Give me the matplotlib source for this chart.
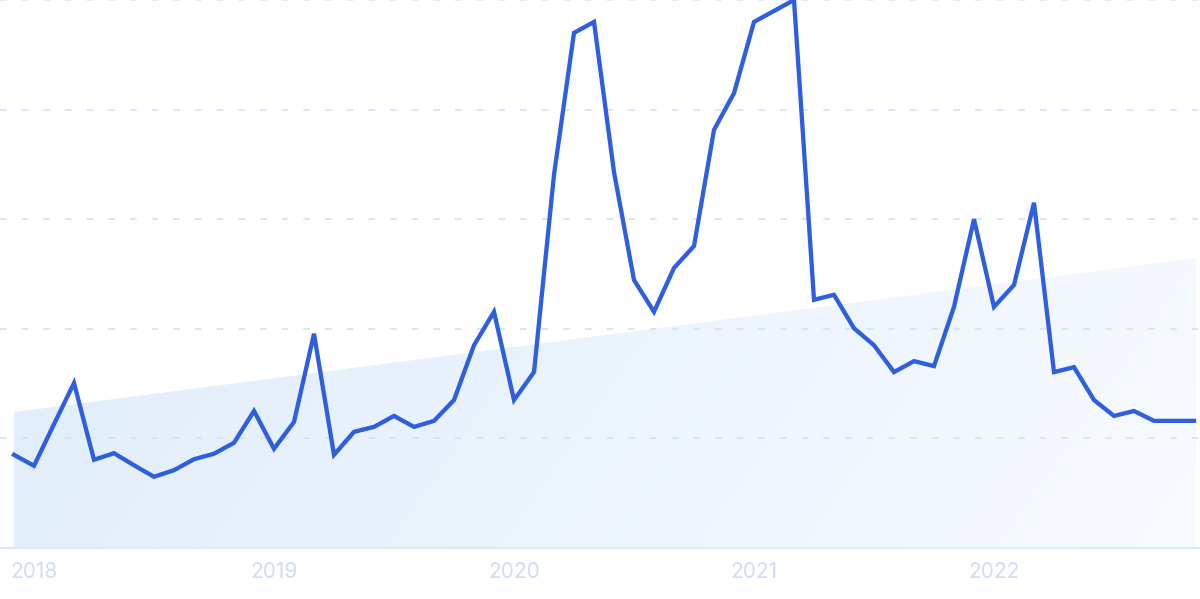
import numpy as np
import pandas as pd
import matplotlib
matplotlib.use("Agg")
import matplotlib.pyplot as plt
from matplotlib.patches import Polygon

# monthly interest, Dec 2017 .. Nov 2022 (0-100 scale)
months = pd.date_range("2017-12-01", periods=60, freq="MS")
values = [17.0, 15.0, 22.6, 30.1, 16.1, 17.3, 15.1, 13.0, 14.2, 16.2,
          17.2, 19.2, 25.0, 18.1, 23.0, 39.1, 17.0, 21.2, 22.1, 24.1,
          22.1, 23.2, 27.0, 37.0, 43.1, 27.0, 32.1, 68.1, 94.0, 96.0,
          68.6, 48.9, 43.1, 51.1, 55.1, 76.3, 83.0, 96.0, 98.0, 100.0,
          45.3, 46.2, 40.1, 37.0, 32.1, 34.1, 33.2, 44.0, 60.0, 44.0,
          48.0, 63.0, 32.1, 33.0, 27.0, 24.1, 25.0, 23.2, 23.2, 23.2]
trend_ends = [24.8, 52.9]
year_labels = ["2018", "2019", "2020", "2021", "2022"]

line_color = "#2f5fe1"
grid_color = "#cde3fa"
label_color = "#cfdcf5"

fig = plt.figure(figsize=(12, 5.99), dpi=100)
ax = fig.add_axes([0, 51 / 599, 1, 548 / 599])

x = np.arange(len(values))
ax.set_xlim(-0.7, len(values) - 0.7)
ax.set_ylim(0, 100)

# trend area with a soft, mostly horizontal gradient
x_end = len(values) - 1 + 0.1
poly = Polygon([(0, 0), (0, trend_ends[0]), (x_end, trend_ends[1]), (x_end, 0)],
               closed=True, facecolor="none", edgecolor="none")
ax.add_patch(poly)
gx, gy = np.meshgrid(np.linspace(0, 1, 300), np.linspace(0, 1, 150))
t = np.clip(0.85 * gx + 0.15 * gy, 0, 1)
c0 = np.array([224, 237, 251]) / 255
c1 = np.array([248, 251, 255]) / 255
img = c0 + (c1 - c0) * t[..., None]
im = ax.imshow(img, extent=(0, x_end, 0, 55), origin="upper", aspect="auto",
               zorder=1, interpolation="bilinear")
im.set_clip_path(poly)

ax.axhline(100, color="#dfe7f7", lw=1.2, dashes=(4, 9), zorder=2, clip_on=False)
for yv in [20, 40, 60, 80]:
    ax.axhline(yv, color=grid_color, lw=1.2, dashes=(4, 9), zorder=2)
ax.axhline(0, color="#e1e9f7", lw=1.5, zorder=2, clip_on=False)

ax.plot(x, values, color=line_color, lw=3.1, solid_joinstyle="miter", zorder=3,
        clip_on=False)

tick_pos = [1 + 12 * k for k in range(len(year_labels))]
ax.set_xticks(tick_pos)
ax.set_xticklabels(year_labels, fontsize=15, color=label_color, family="Inter")
ax.tick_params(axis="x", length=0, pad=10)
ax.set_yticks([])
for s in ax.spines.values():
    s.set_visible(False)

fig.savefig("out.png", dpi=100)
